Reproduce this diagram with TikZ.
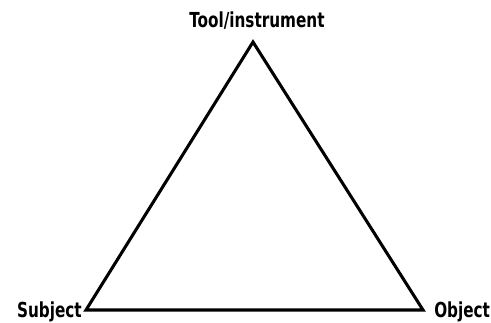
\documentclass[tikz,border=0pt]{standalone}
\usepackage{graphicx}
\usepackage{fontspec}
\setmainfont{DejaVu Sans Condensed}
\usetikzlibrary{positioning}
\newcommand{\narrowlbl}[1]{\scalebox{0.82}[1.0]{#1}}

\begin{document}
\begin{tikzpicture}[
    x=0.75pt, y=-0.75pt,
    corner/.style={font=\bfseries\fontsize{15.5}{17}\selectfont, inner sep=0pt},
    side/.style={line width=2.3pt, line join=miter}
]
    % --- Frame ---
    \useasboundingbox (0,0) rectangle (491,322);

    % --- Corners ---
    \coordinate (apex) at (253,42);
    \coordinate (left) at (86,310);
    \coordinate (right) at (423,310);

    % --- Labels ---
    \node (tool) [corner, anchor=base] at (257,27) {\narrowlbl{Tool/instrument}};
    \node (subject) [corner, anchor=base east] at (82,317) {\narrowlbl{Subject}};
    \node (object) [corner, anchor=base west] at (434,317) {\narrowlbl{Object}};

    % --- Triangle ---
    \draw [side] (apex) -- (right) -- (left) -- cycle;

\end{tikzpicture}
\end{document}
